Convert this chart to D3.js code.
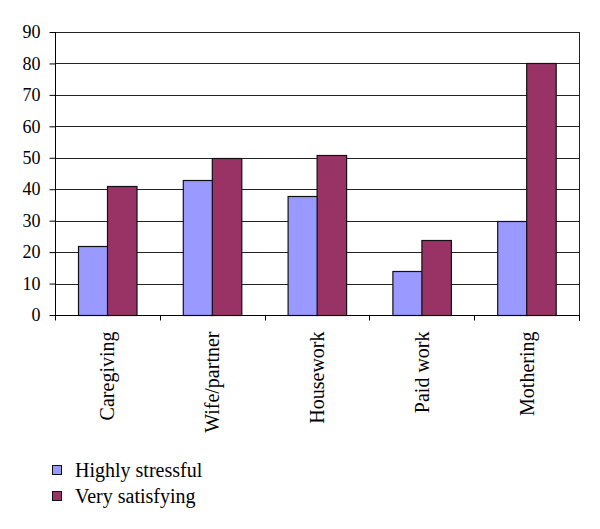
<!DOCTYPE html>
<html><head><meta charset="utf-8">
<script src="https://cdn.jsdelivr.net/npm/d3@7"></script>
<style>
body{margin:0;background:#fff;}
</style></head>
<body><svg id="c" width="600" height="529" font-family="Liberation Serif"></svg>
<script>
const categories = ["Caregiving","Wife/partner","Housework","Paid work","Mothering"];
const seriesNames = ["Highly stressful","Very satisfying"];
const highlyStressful = [22,43,38,14,30];
const verySatisfying = [41,50,51,24,80];
const yTicks = [0,10,20,30,40,50,60,70,80,90];
const colors = ["#9999FF","#993366"];

const svg = d3.select("#c");
const m = {left:55, right:579, top:32, bottom:315};
const x = d3.scaleBand().domain(categories).range([m.left, m.right]).paddingInner(0).paddingOuter(0);
const xs = d3.scaleBand().domain(seriesNames).range([0, x.bandwidth()]).paddingInner(0).paddingOuter(0.776);
const y = d3.scaleLinear().domain([0,90]).range([m.bottom, m.top]);

// gridlines
svg.append("g").selectAll("line").data(yTicks.filter(d=>d>0)).join("line")
  .attr("x1", m.left).attr("x2", m.right)
  .attr("y1", d=>Math.round(y(d))+0.5).attr("y2", d=>Math.round(y(d))+0.5)
  .attr("stroke","#222").attr("stroke-width",1);
// right border
svg.append("line").attr("x1",m.right+0.5).attr("x2",m.right+0.5)
  .attr("y1",Math.round(y(90))).attr("y2",m.bottom+6).attr("stroke","#222");

// bars
const data = categories.map((c,i)=>({c, vals:[highlyStressful[i], verySatisfying[i]]}));
const g = svg.append("g").selectAll("g").data(data).join("g")
  .attr("transform", d=>`translate(${x(d.c)},0)`);
g.selectAll("rect").data(d=>d.vals.map((v,j)=>({v, s:seriesNames[j], j}))).join("rect")
  .attr("x", d=>Math.round(xs(d.s))+0.5)
  .attr("width", xs.bandwidth())
  .attr("y", d=>Math.round(y(d.v))+0.5)
  .attr("height", d=>Math.round(y(0))-Math.round(y(d.v)))
  .attr("fill", d=>colors[d.j]).attr("stroke","#111").attr("stroke-width",1.2);

// y axis
const ya = svg.append("g").attr("transform",`translate(${m.left+0.5},0)`)
  .call(d3.axisLeft(y).tickValues(yTicks).tickSize(6).tickPadding(9).tickFormat(d3.format("d")));
ya.attr("font-size",18).attr("font-family","Liberation Serif");
ya.select(".domain").attr("stroke","#000").attr("d",`M0,${Math.round(y(90))}V${m.bottom+0.5}`);
ya.selectAll(".tick line").attr("stroke","#000");
ya.selectAll(".tick text").attr("fill","#000");

// x axis
const xa = svg.append("g").attr("transform",`translate(0,${m.bottom+0.5})`);
xa.append("line").attr("x1",m.left).attr("x2",m.right+1).attr("stroke","#000");
const bounds = categories.map(c=>x(c)).concat([m.right]);
xa.selectAll("line.t").data(bounds).join("line").attr("class","t")
  .attr("x1",d=>Math.round(d)+0.5).attr("x2",d=>Math.round(d)+0.5).attr("y1",0).attr("y2",5).attr("stroke","#000");
xa.selectAll("text").data(categories).join("text")
  .attr("transform", d=>`translate(${x(d)+x.bandwidth()/2+7},16) rotate(-90)`)
  .attr("text-anchor","end").attr("font-size",20).text(d=>d);

// legend
const lg = svg.append("g").attr("transform","translate(52,462)");
seriesNames.forEach((s,i)=>{
  lg.append("rect").attr("x",0.5).attr("y",i*26+3.5).attr("width",9).attr("height",9)
    .attr("fill",colors[i]).attr("stroke","#111");
  lg.append("text").attr("x",23).attr("y",i*26+15).attr("font-size",20).text(s);
});

svg.selectAll("text").attr("font-family", "Liberation Serif");
</script></body></html>
